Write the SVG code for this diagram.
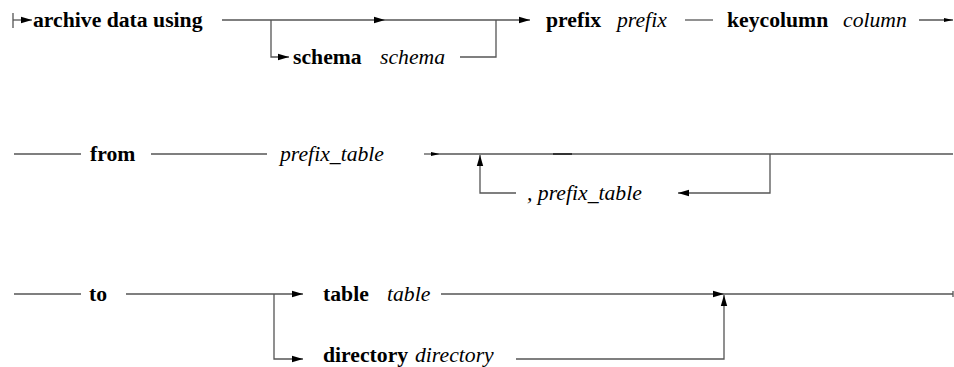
<svg xmlns="http://www.w3.org/2000/svg" width="954" height="367" viewBox="0 0 954 367">
<style>
text{font-family:"Liberation Serif","DejaVu Serif",serif;font-size:21.7px;fill:#000}
.b{font-weight:bold}
.i{font-style:italic}
.c{fill:none;stroke:#555;stroke-width:1.3}
</style>
<defs>
<marker id="a" markerUnits="userSpaceOnUse" markerWidth="12" markerHeight="8" refX="11" refY="4" orient="auto"><path d="M0,0.8 L11,4 L0,7.2 z" fill="#000"/></marker>
<marker id="s" markerUnits="userSpaceOnUse" markerWidth="10" markerHeight="6" refX="9" refY="3" orient="auto"><path d="M0,1 L9,3 L0,5 z" fill="#000"/></marker>
</defs>
<rect width="954" height="367" fill="#fff"/>
<g id="connectors">
<line class="c" x1="13" y1="13" x2="13" y2="28"/>
<line class="c" x1="13" y1="20" x2="32" y2="20" marker-end="url(#a)"/>
<line class="c" x1="222" y1="20" x2="385" y2="20" marker-end="url(#a)"/>
<line class="c" x1="385" y1="20" x2="530" y2="20" marker-end="url(#a)"/>
<path class="c" d="M271,20 V57 H289" marker-end="url(#a)"/>
<path class="c" d="M460,57 H496 V20"/>
<line class="c" x1="685" y1="20" x2="713" y2="20"/>
<line class="c" x1="919" y1="20" x2="953" y2="20" marker-end="url(#s)"/>
<line class="c" x1="14" y1="154" x2="81" y2="154"/>
<line class="c" x1="151" y1="154" x2="267" y2="154"/>
<line class="c" x1="424" y1="154" x2="440" y2="154" marker-end="url(#s)"/>
<line class="c" x1="440" y1="154" x2="953" y2="154"/>
<line x1="553" y1="154" x2="572" y2="154" stroke="#333" stroke-width="2"/>
<path class="c" d="M770,154 V193 H678" marker-end="url(#a)"/>
<path class="c" d="M516,193 H480 V155" marker-end="url(#a)"/>
<line class="c" x1="14" y1="294" x2="81" y2="294"/>
<line class="c" x1="126" y1="294" x2="303" y2="294" marker-end="url(#a)"/>
<path class="c" d="M274,294 V359 H303" marker-end="url(#a)"/>
<line class="c" x1="441" y1="294" x2="724" y2="294" marker-end="url(#a)"/>
<line class="c" x1="724" y1="294" x2="953" y2="294"/>
<line class="c" x1="953" y1="291" x2="953" y2="297"/>
<path class="c" d="M516,359 H724 V295" marker-end="url(#a)"/>
</g>
<g id="n-archive"><text class="b" x="33" y="27">archive data using</text></g>
<g id="n-schema"><text class="b" x="293" y="64">schema</text><text class="i" x="380" y="64">schema</text></g>
<g id="n-prefix"><text class="b" x="546" y="27">prefix</text><text class="i" x="617" y="27">prefix</text></g>
<g id="n-keycolumn"><text class="b" x="727" y="27">keycolumn</text><text class="i" x="843" y="27">column</text></g>
<g id="n-from"><text class="b" x="90" y="161">from</text></g>
<g id="n-prefix-table"><text class="i" x="280" y="161">prefix_table</text></g>
<g id="n-prefix-table-rep"><text class="i" x="527" y="200">, prefix_table</text></g>
<g id="n-to"><text class="b" x="89" y="301">to</text></g>
<g id="n-table"><text class="b" x="323" y="301">table</text><text class="i" x="387" y="301">table</text></g>
<g id="n-directory"><text class="b" x="323" y="362">directory</text><text class="i" x="415" y="362">directory</text></g>
</svg>
